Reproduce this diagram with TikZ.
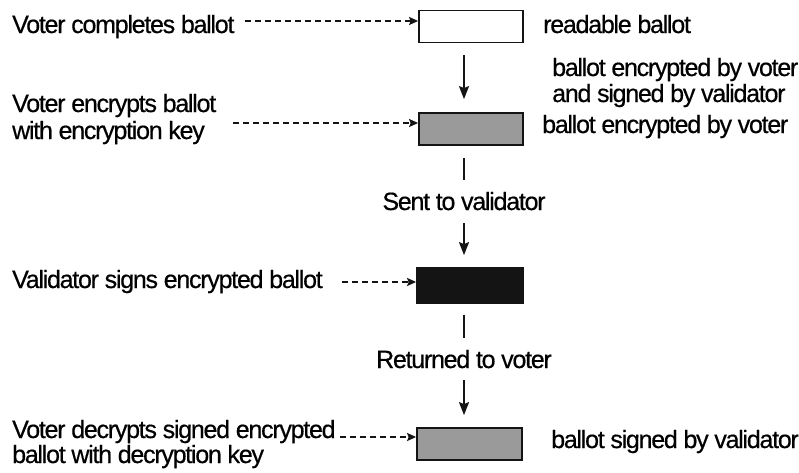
\documentclass[tikz,border=0pt]{standalone}
\usepackage{fontspec}
\setmainfont{Liberation Sans}[LetterSpace=-5, FakeBold=0.5]
\usetikzlibrary{arrows.meta}
\definecolor{ink}{HTML}{141414}
\definecolor{shade}{HTML}{9A9A9A}
\begin{document}
\begin{tikzpicture}[x=1pt,y=-1pt,
  lbl/.style={font=\fontsize{25}{26}\selectfont, inner sep=0pt, align=left},
  ballot/.style={draw=ink, line width=1.8pt, minimum width=104pt, minimum height=32pt, inner sep=0pt},
  flow/.style={draw=ink, line width=1.8pt, -{Stealth[length=13pt,width=10pt,inset=2pt]}},
  tick/.style={draw=ink, line width=1.8pt},
  hint/.style={draw=ink, line width=1.6pt, dash pattern=on 6pt off 4pt, -{Stealth[length=9pt,width=8pt,inset=1.5pt]}}]
\useasboundingbox (0,0) rectangle (799,472);
\fill[white] (0,0) rectangle (799,472);

% ballot boxes
\node[ballot, fill=white] (b1) at (471,26.5) {};
\node[ballot, fill=shade] (b2) at (471,129) {};
\node[ballot, fill=ink, minimum width=106pt, minimum height=35pt] (b3) at (470,285.5) {};
\node[ballot, fill=shade, minimum width=105pt] (b4) at (469.5,444) {};

% left-hand steps (base anchor sits on the last line)
\node[lbl, anchor=base west] (s1) at (12,33) {Voter completes ballot};
\node[lbl, anchor=base west, font=\fontsize{25}{27}\selectfont] (s2) at (12,139) {Voter encrypts ballot\\with encryption key};
\node[lbl, anchor=base west] (s3) at (12,288) {Validator signs encrypted ballot};
\node[lbl, anchor=base west, font=\fontsize{25}{25}\selectfont] (s4) at (12,463) {Voter decrypts signed encrypted\\ballot with decryption key};

% right-hand state labels
\node[lbl, anchor=base west] (r1) at (543,33) {readable ballot};
\node[lbl, anchor=base west, font=\fontsize{25}{26}\selectfont] (r2) at (552,102) {ballot encrypted by voter\\and signed by validator};
\node[lbl, anchor=base west] (r3) at (542,133) {ballot encrypted by voter};
\node[lbl, anchor=base west] (r4) at (551,448) {ballot signed by validator};

% transfer labels
\node[lbl, anchor=base] (t1) at (464,210) {Sent to validator};
\node[lbl, anchor=base] (t2) at (464,368) {Returned to voter};

% main flow
\draw[flow, shorten <=12pt, shorten >=13pt] (b1.south -| t1.base) -- (b2.north -| t1.base);
\draw[tick, shorten <=12pt, shorten >=12pt] (b2.south -| t1.base) -- (t1.north);
\draw[flow, shorten <=13pt, shorten >=12pt] (t1.base) -- (b3.north -| t1.base);
\draw[tick, shorten <=11pt, shorten >=12pt] (b3.south -| t1.base) -- (t2.north);
\draw[flow, shorten <=12pt, shorten >=12pt] (t2.base) -- (b4.north -| t2.base);

% dashed pointers from the steps
\coordinate (p1) at (245,21);
\coordinate (p2) at (233,123);
\coordinate (p3) at (342,282);
\coordinate (p4) at (340,437);
\draw[hint] (p1) -- (b1.west |- p1);
\draw[hint] (p2) -- (b2.west |- p2);
\draw[hint] (p3) -- (b3.west |- p3);
\draw[hint] (p4) -- (b4.west |- p4);
\end{tikzpicture}
\end{document}
